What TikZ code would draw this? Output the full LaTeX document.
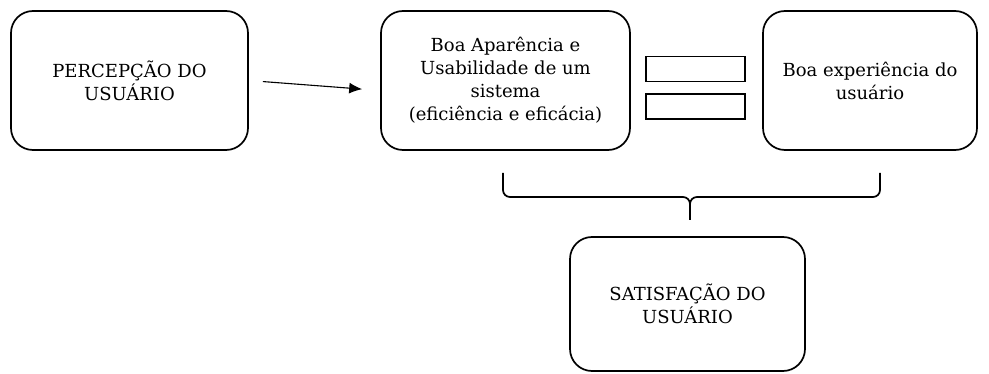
\documentclass[tikz,border=0pt]{standalone}
\usepackage{fontspec}
\setmainfont{DejaVu Serif}
\usetikzlibrary{arrows.meta}

\tikzset{
  caixa/.style={draw, line width=1.7pt, rounded corners=22pt, align=center,
    font=\fontsize{18}{23}\selectfont},
  barra/.style={draw, line width=1.4pt, minimum width=99pt, minimum height=25pt},
}

\begin{document}
\begin{tikzpicture}[x=1pt,y=-1pt]
  \useasboundingbox (0,0) rectangle (989,374);

  % caixas de cima
  \node[caixa, minimum width=237pt, minimum height=139pt] (percepcao) at (129.5,80.5)
    {PERCEPÇÃO DO\\USUÁRIO};
  \node[caixa, minimum width=249pt, minimum height=139pt] (aparencia) at (505.5,80.5)
    {Boa Aparência e\\Usabilidade de um\\sistema\\(eficiência e eficácia)};
  \node[caixa, minimum width=214pt, minimum height=139pt] (experiencia) at (870,80.5)
    {Boa experiência do\\usuário};

  % sinal de igual
  \node[barra] (igualA) at (695.5,69) {};
  \node[barra] (igualB) at (695.5,106.5) {};

  % caixa de baixo
  \node[caixa, minimum width=235pt, minimum height=134pt] (satisfacao) at (687.5,304)
    {SATISFAÇÃO DO\\USUÁRIO};

  \draw[-{Latex[length=13pt,width=11pt]}, line width=1.1pt, shorten <=14pt, shorten >=18pt]
    (percepcao.east) -- ([yshift=-10pt]aparencia.west);

  % chave
  \coordinate (chaveE) at (503,173);
  \coordinate (chaveD) at (880,173);
  \coordinate (chaveM) at (690,197);
  \coordinate (chaveP) at (690,220);
  \draw[line width=1.7pt, rounded corners=7pt]
    (chaveE) |- (chaveM) -- (chaveP);
  \draw[line width=1.7pt, rounded corners=7pt]
    (chaveD) |- (chaveM) -- (chaveP);
\end{tikzpicture}
\end{document}
